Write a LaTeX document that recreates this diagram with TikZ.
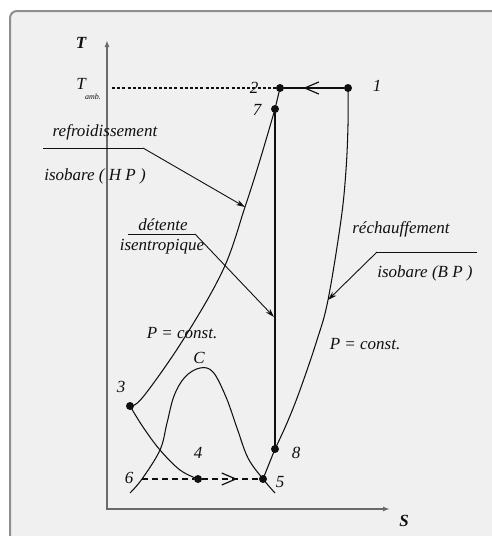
\documentclass[tikz,border=0pt]{standalone}
\usepackage{fontspec}
\setmainfont{Liberation Serif}
\usetikzlibrary{arrows.meta,decorations.markings}
\definecolor{bg}{HTML}{F0F0F0}
\definecolor{framec}{HTML}{8E8E8E}
\definecolor{axisc}{HTML}{6A6A6A}
\definecolor{ink}{HTML}{101010}
\begin{document}
\begin{tikzpicture}[x=1pt,y=-1pt,
  every node/.style={font=\fontsize{17}{19}\selectfont\itshape, inner sep=0pt, text=ink},
  dot/.style={circle,fill=ink,minimum size=8pt,inner sep=0pt},
  curve/.style={line width=1.05pt,draw=ink},
  axisline/.style={line width=2.2pt,draw=axisc,{Latex[length=7pt,width=5pt]}-{Latex[length=7pt,width=5pt]}},
  leader/.style={line width=0.9pt,draw=ink,-{Stealth[length=9pt,width=5.5pt]}},
  plainleader/.style={line width=0.9pt,draw=ink},
  dotted line/.style={line width=1.3pt,draw=ink,dash pattern=on 3pt off 2.2pt},
  dashed line/.style={line width=1.4pt,draw=ink,dash pattern=on 6pt off 4pt},
  midarrow/.style={postaction={decorate,decoration={markings,mark=at position #1 with {\arrow[solid,line width=1.2pt]{Straight Barb[length=14pt,width=12pt]}}}}},
  axislabel/.style={font=\fontsize{17}{19}\selectfont\bfseries\itshape},
]
\useasboundingbox (0,0) rectangle (491,536);
\fill[white] (0,0) rectangle (491,536);
\draw[draw=framec,fill=bg,line width=2pt,rounded corners=7pt] (10,11) rectangle (510,560);

% axes
\coordinate (Ttop) at (107,40);
\coordinate (O) at (107,509);
\coordinate (Send) at (390,509);
\draw[axisline] (Ttop) -- (O) -- (Send);
\node[axislabel] (Tlab) at (81,43) {T};
\node[axislabel] (Slab) at (404,521) {S};
\node (Tamb) at (81,84) {T};
\node[font=\fontsize{8}{9}\selectfont\itshape] (amb) at (93,97) {amb.};

% state points
\node[dot] (p1) at (348,88) {};
\node[dot] (p2) at (280,88) {};
\node[dot] (p7) at (275,109) {};
\node[dot] (p8) at (275,449) {};
\node[dot] (p3) at (130,406) {};
\node[dot] (p4) at (198,479) {};
\node[dot] (p5) at (263,479) {};
\coordinate (p6) at (142,479);
\coordinate (tambEnd) at (112,88);

% point labels
\node (l1) at (377,86) {1};
\node (l2) at (254,88) {2};
\node (l7) at (257,110) {7};
\node (l3) at (121,387) {3};
\node (l4) at (198,453) {4};
\node (l6) at (129,478) {6};
\node (l5) at (280,482) {5};
\node (l8) at (296,453) {8};
\node (lC) at (199,358) {C};

% T_amb dotted line
\draw[dotted line] (tambEnd) -- (p2);

% 1 -> 2 isobar with arrow
\draw[curve,midarrow=0.68] (p1) -- (p2);
\draw[curve] (p2.center) -- (p7.center);
% isentropic expansion 7 -> 8
\draw[curve] (p7.center) -- (p8.center);

% HP isobar 7 -> 3
\coordinate (hpA) at (245,207);
\draw[curve] plot[smooth,tension=0.6] coordinates {(p7.center) (260,160) (hpA) (223,270) (183,340) (143,397) (p3.center)};

% BP isobar 1 -> 8 -> 5
\coordinate (bpA) at (328,300);
\draw[curve] plot[smooth,tension=0.6] coordinates {(p1.center) (348,125) (346,170) (341,220) (bpA) (317,340) (300,390) (287,423) (p8.center)};
\draw[curve] (p8.center) -- (p5.center);

% 3 -> 4
\draw[curve] plot[smooth,tension=0.6] coordinates {(p3.center) (143,427) (160,450) (180,470) (p4.center)};

% saturation dome
\coordinate (domeL) at (130,493);
\coordinate (domeR) at (275,493);
\draw[curve] plot[smooth,tension=0.6] coordinates {(domeL) (p6) (160,450) (167,423) (174,396) (185,377) (200,368) (213,372) (226,397) (237,428) (248,458) (p5.center) (domeR)};

% dashed 6 -> 4 -> 5
\draw[dashed line] (p6) -- (p4);
\draw[dashed line,midarrow=0.62] (p4) -- (p5);

% leaders and labels
\coordinate (hpL) at (43,148);
\coordinate (hpK) at (143,148);
\draw[plainleader] (hpL) -- (hpK);
\draw[leader] (hpK) -- (hpA);
\node (refr) at (105,132) {refroidissement};
\node (isoHP) at (95,176) {isobare ( H P )};

\coordinate (detL) at (128,234);
\coordinate (detK) at (195,234);
\coordinate (detA) at (274,317);
\draw[plainleader] (detL) -- (detK);
\draw[leader] (detK) -- (detA);
\node (det) at (163,225) {détente};
\node (isen) at (162,247) {isentropique};

\coordinate (bpL) at (477,252);
\coordinate (bpK) at (377,252);
\draw[plainleader] (bpL) -- (bpK);
\draw[leader] (bpK) -- (bpA);
\node (rech) at (401,229) {réchauffement};
\node (isoBP) at (425,273) {isobare (B P )};

\node (pc1) at (182,333) {P = const.};
\node (pc2) at (365,344) {P = const.};
\end{tikzpicture}
\end{document}
